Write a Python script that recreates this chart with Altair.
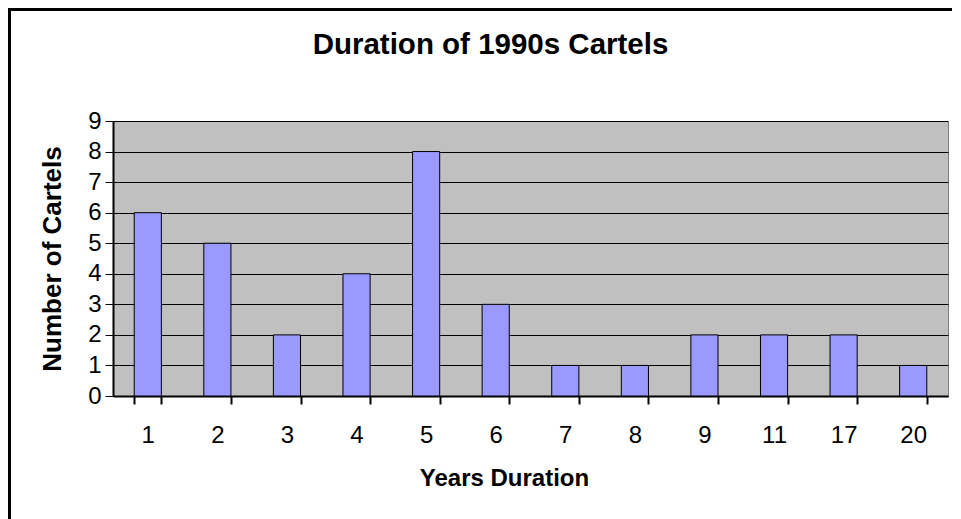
import altair as alt
import pandas as pd

years = ["1", "2", "3", "4", "5", "6", "7", "8", "9", "11", "17", "20"]
counts = [6, 5, 2, 4, 8, 3, 1, 1, 2, 2, 2, 1]
y_ticks = [0, 1, 2, 3, 4, 5, 6, 7, 8, 9]

df = pd.DataFrame({"Years": years, "Count": counts})
FONT = "Liberation Sans"

bars = alt.Chart(df).mark_bar(
    color="#9999FF", stroke="black", strokeWidth=1
).encode(
    x=alt.X("Years:N", sort=years,
            scale=alt.Scale(paddingInner=0.61, paddingOuter=0.305),
            axis=alt.Axis(title="Years Duration", labelAngle=0, tickBand="extent",
                          domainColor="black", domainWidth=2,
                          tickColor="black", tickSize=8, tickWidth=2,
                          labelPadding=19, labelFontSize=24, labelColor="black",
                          titleFontSize=24, titleFontWeight="bold", titleColor="black",
                          titlePadding=19, titleX=391, grid=False,
                          labelFont=FONT, titleFont=FONT)),
    y=alt.Y("Count:Q", scale=alt.Scale(domain=[0, 9], nice=False),
            axis=alt.Axis(title="Number of Cartels", values=y_ticks,
                          domainColor="black", domainWidth=2,
                          tickColor="black", tickSize=8, tickWidth=1,
                          labelPadding=4, labelFontSize=24, labelColor="black",
                          titleFontSize=26, titleFontWeight="bold", titleColor="black",
                          titlePadding=22, grid=True, gridColor="black", gridWidth=1,
                          gridOpacity=1, labelFont=FONT, titleFont=FONT)),
)

border_top = alt.Chart(df).mark_rule(color="black", strokeWidth=3).encode(
    x=alt.value(-105), x2=alt.value(839), y=alt.value(-111.5)
)
border_left = alt.Chart(df).mark_rule(color="black", strokeWidth=3).encode(
    x=alt.value(-104), y=alt.value(-113), y2=alt.value(400)
)

chart = alt.layer(bars, border_top, border_left).properties(
    width=835, height=275,
    autosize=alt.AutoSizeParams(type="none"),
    padding={"left": 105, "top": 113, "right": 5, "bottom": 123},
    title=alt.Title("Duration of 1990s Cartels", fontSize=29.5, fontWeight="bold",
                    font=FONT, color="black", anchor="middle", dx=-40, offset=-54),
).configure_view(fill="#C0C0C0", stroke="#808080", strokeWidth=1)

chart.save("out.html", embed_options={"renderer": "svg", "actions": False})
